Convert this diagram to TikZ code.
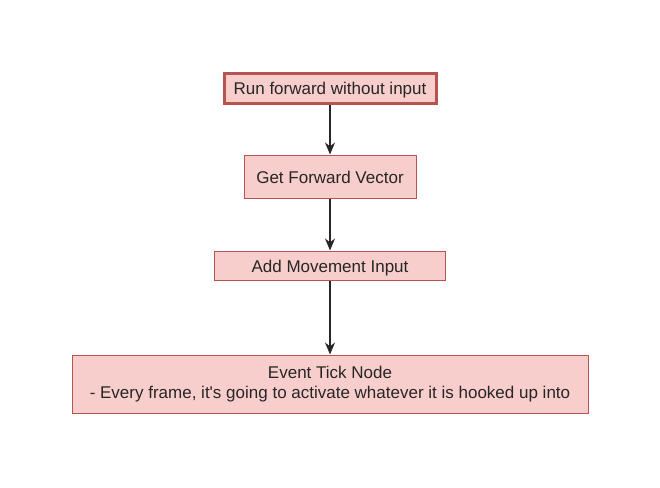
\documentclass[tikz,border=0pt]{standalone}
\usepackage{fontspec}
\setmainfont{Liberation Sans}[Ligatures=TeXOff]
\usetikzlibrary{arrows.meta}
\definecolor{boxfill}{HTML}{F8CECC}
\definecolor{boxline}{HTML}{B85450}
\begin{document}
\begin{tikzpicture}[x=1pt, y=-1pt, every node/.style={rectangle, draw=boxline, fill=boxfill, inner sep=0pt, font=\fontsize{17}{20}\selectfont, text=black!85}, oneline/.style={text height=13pt, text depth=0pt}]
  \useasboundingbox (0,0) rectangle (660,487);
  % Nodes
  \node[oneline, line width=3pt, minimum width=212pt, minimum height=30pt] (run) at (330,88) {Run forward without input};
  \node[oneline, line width=1pt, minimum width=172pt, minimum height=43pt] (vec) at (330,176.5) {Get Forward Vector};
  \node[oneline, line width=1pt, minimum width=231pt, minimum height=29pt] (add) at (330,265.5) {Add Movement Input};
  \node[line width=1pt, minimum width=516pt, minimum height=58pt, align=center] (tick) at (330,384) {Event Tick Node\\- Every frame, it's going to activate whatever it is hooked up into};

  % Edges
  \draw[-{Stealth[length=12pt, width=10pt]}, line width=1.2pt, black!85] (run.south) -- (vec.north);
  \draw[-{Stealth[length=12pt, width=10pt]}, line width=1.2pt, black!85] (vec.south) -- (add.north);
  \draw[-{Stealth[length=12pt, width=10pt]}, line width=1.2pt, black!85] (add.south) -- (tick.north);
\end{tikzpicture}
\end{document}
